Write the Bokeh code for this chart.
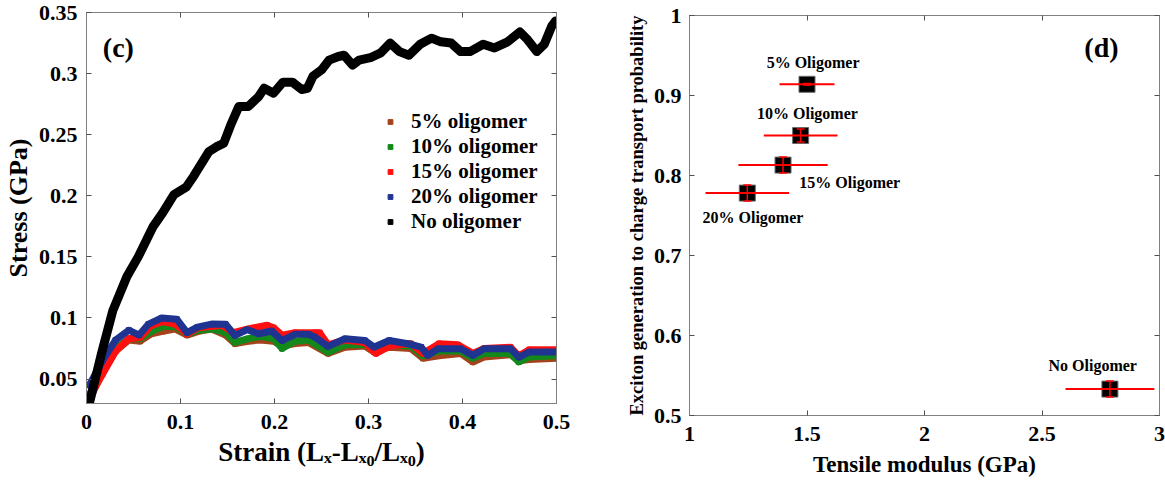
from bokeh.plotting import figure
from bokeh.layouts import row, column
from bokeh.models import (LinearAxis, FixedTicker, Label, Legend, LegendItem,
                          ColumnDataSource, Whisker, TeeHead, Range1d)
from bokeh.embed import file_html
from bokeh.resources import INLINE

# ---------------- data: panel (c) stress-strain ----------------
black_x = [0.003, 0.016, 0.028, 0.043, 0.055, 0.071, 0.081, 0.093, 0.106, 0.114,
           0.130, 0.138, 0.146, 0.154, 0.162, 0.172, 0.183, 0.189, 0.199, 0.209,
           0.219, 0.229, 0.235, 0.241, 0.250, 0.258, 0.268, 0.274, 0.283, 0.290,
           0.302, 0.313, 0.323, 0.333, 0.343, 0.355, 0.367, 0.377, 0.388, 0.398,
           0.408, 0.422, 0.434, 0.448, 0.461, 0.469, 0.479, 0.487, 0.495, 0.499]
black_y = [0.030, 0.071, 0.106, 0.134, 0.150, 0.175, 0.186, 0.201, 0.207, 0.216,
           0.236, 0.240, 0.243, 0.259, 0.273, 0.273, 0.281, 0.288, 0.284, 0.293,
           0.293, 0.287, 0.288, 0.298, 0.303, 0.311, 0.314, 0.315, 0.307, 0.311,
           0.313, 0.317, 0.325, 0.318, 0.315, 0.324, 0.329, 0.326, 0.325, 0.318,
           0.318, 0.324, 0.321, 0.326, 0.334, 0.328, 0.318, 0.324, 0.339, 0.343]

blue_x = [0.003, 0.017, 0.031, 0.045, 0.056, 0.066, 0.080, 0.096, 0.107, 0.118,
          0.133, 0.148, 0.158, 0.171, 0.183, 0.197, 0.208, 0.222, 0.236, 0.243,
          0.257, 0.275, 0.296, 0.306, 0.322, 0.342, 0.356, 0.363, 0.374, 0.398,
          0.411, 0.423, 0.451, 0.460, 0.471, 0.500]
blue_y = [0.045, 0.065, 0.082, 0.090, 0.086, 0.095, 0.100, 0.099, 0.088, 0.0925,
          0.095, 0.0948, 0.0857, 0.0904, 0.0871, 0.0893, 0.0816, 0.0866, 0.0866, 0.0844,
          0.0767, 0.083, 0.0816, 0.0762, 0.0816, 0.0789, 0.0762, 0.0694, 0.0748, 0.0748,
          0.0694, 0.0748, 0.0748, 0.068, 0.0721, 0.0721]

red_x = [0.003, 0.017, 0.031, 0.045, 0.057, 0.069, 0.081, 0.094, 0.107, 0.119,
         0.144, 0.156, 0.172, 0.192, 0.199, 0.208, 0.222, 0.243, 0.248, 0.257,
         0.275, 0.296, 0.308, 0.322, 0.345, 0.358, 0.375, 0.395, 0.411, 0.423,
         0.451, 0.460, 0.471, 0.500]
red_y = [0.035, 0.054, 0.073, 0.083, 0.084, 0.094, 0.097, 0.095, 0.087, 0.092,
         0.094, 0.088, 0.091, 0.094, 0.092, 0.086, 0.088, 0.088, 0.088, 0.078,
         0.082, 0.080, 0.071, 0.077, 0.079, 0.071, 0.079, 0.078, 0.071, 0.075,
         0.076, 0.069, 0.074, 0.074]

gb_x = [0.003, 0.017, 0.031, 0.045, 0.057, 0.069, 0.081, 0.094, 0.107, 0.119,
        0.133, 0.148, 0.158, 0.172, 0.185, 0.199, 0.208, 0.222, 0.236, 0.257,
        0.275, 0.296, 0.306, 0.322, 0.345, 0.358, 0.375, 0.398, 0.411, 0.423,
        0.451, 0.460, 0.471, 0.500]
green_y = [0.037, 0.058, 0.075, 0.083, 0.083, 0.089, 0.093, 0.093, 0.087, 0.090,
           0.091, 0.088, 0.080, 0.083, 0.085, 0.083, 0.075, 0.081, 0.082, 0.072,
           0.078, 0.078, 0.075, 0.078, 0.077, 0.069, 0.073, 0.073, 0.067, 0.071,
           0.071, 0.064, 0.068, 0.069]
brown_y = [0.033, 0.055, 0.073, 0.082, 0.081, 0.087, 0.089, 0.091, 0.086, 0.089,
           0.091, 0.086, 0.079, 0.081, 0.082, 0.081, 0.077, 0.079, 0.080, 0.071,
           0.076, 0.077, 0.072, 0.076, 0.075, 0.067, 0.069, 0.071, 0.064, 0.068,
           0.070, 0.065, 0.066, 0.067]

series_names = ["5% oligomer", "10% oligomer", "15% oligomer", "20% oligomer", "No oligomer"]

strain_ticks = [0, 0.1, 0.2, 0.3, 0.4, 0.5]
strain_labels = ["0", "0.1", "0.2", "0.3", "0.4", "0.5"]
stress_ticks = [0.05, 0.1, 0.15, 0.2, 0.25, 0.3, 0.35]
stress_labels = ["0.05", "0.1", "0.15", "0.2", "0.25", "0.3", "0.35"]

# ---------------- data: panel (d) ----------------
point_names = ["5% Oligomer", "10% Oligomer", "15% Oligomer", "20% Oligomer", "No Oligomer"]
modulus = [1.50, 1.473, 1.398, 1.246, 2.789]
modulus_err = [0.117, 0.157, 0.190, 0.178, 0.189]
probability = [0.914, 0.850, 0.813, 0.778, 0.533]
probability_err = [0.001, 0.008, 0.010, 0.010, 0.010]

modulus_ticks = [1, 1.5, 2, 2.5, 3]
modulus_labels = ["1", "1.5", "2", "2.5", "3"]
prob_ticks = [0.5, 0.6, 0.7, 0.8, 0.9, 1.0]
prob_labels = ["0.5", "0.6", "0.7", "0.8", "0.9", "1"]

FONT = "Liberation Serif"
GRAY = "#808080"
TICKC = "#505050"


def style_axis(ax, size, standoff):
    ax.axis_line_color = GRAY
    ax.major_tick_in = 5
    ax.major_tick_out = 0
    ax.minor_tick_line_color = None
    ax.major_tick_line_color = TICKC
    ax.major_label_text_font = FONT
    ax.major_label_text_font_style = "bold"
    ax.major_label_text_font_size = size
    ax.major_label_text_color = "black"
    ax.major_label_standoff = standoff
    ax.axis_label_text_font = FONT
    ax.axis_label_text_font_style = "bold"
    ax.axis_label_text_color = "black"


def mirror_axes(p, xticks, yticks):
    for loc, tk in (("above", xticks), ("right", yticks)):
        ax = LinearAxis(ticker=FixedTicker(ticks=tk))
        style_axis(ax, "0px", 0)
        ax.major_label_text_alpha = 0
        p.add_layout(ax, loc)


# ================= panel (c) =================
p1 = figure(width=600, height=482, output_backend="svg", toolbar_location=None,
            x_range=Range1d(0, 0.5), y_range=Range1d(0.03, 0.35),
            min_border_left=84, min_border_right=44, min_border_top=12, min_border_bottom=79)
p1.grid.visible = False
p1.outline_line_color = GRAY
p1.background_fill_color = "white"
p1.border_fill_color = "white"

p1.xaxis.ticker = FixedTicker(ticks=strain_ticks)
p1.yaxis.ticker = FixedTicker(ticks=stress_ticks)
p1.xaxis.major_label_overrides = dict(zip(strain_ticks, strain_labels))
p1.yaxis.major_label_overrides = dict(zip(stress_ticks, stress_labels))
style_axis(p1.xaxis[0], "22px", 11)
style_axis(p1.yaxis[0], "22px", 9)
p1.yaxis.axis_label = "Stress (GPa)"
p1.yaxis.axis_label_text_font_size = "26px"
p1.yaxis.axis_label_standoff = 3
p1.xaxis.axis_label = "Strain (L\u2093-L\u2093\u2080/L\u2093\u2080)"
p1.xaxis.axis_label_text_font_size = "27px"
p1.xaxis.axis_label_standoff = 5
mirror_axes(p1, strain_ticks, stress_ticks)

colors = ["#A4421C", "#12891A", "#FF1010", "#1F3391", "black"]
xs = [gb_x, gb_x, red_x, blue_x, black_x]
ys = [brown_y, green_y, red_y, blue_y, black_y]
widths = [7, 7, 7, 7, 9]
legend_items = []
for name, c, x, y, w in zip(series_names, colors, xs, ys, widths):
    src = ColumnDataSource(dict(x=x, y=y))
    s = p1.scatter("x", "y", source=src, marker="square", size=5, color=c)
    p1.line("x", "y", source=src, line_color=c, line_width=w,
             line_join="round", line_cap="round")
    legend_items.append(LegendItem(label=name, renderers=[s]))

legend = Legend(items=legend_items, location=(298, 169), margin=0, padding=0, spacing=0,
                glyph_width=12, glyph_height=23, label_height=23, label_standoff=15,
                label_text_font=FONT, label_text_font_style="bold",
                label_text_font_size="21px", label_text_color="black",
                background_fill_alpha=0, border_line_alpha=0)
p1.add_layout(legend)

# frame geometry helpers for placing the panel tag (panel c)
F1L, F1R, F1T, F1B = 84, 556, 12, 403


def c_x(px):
    return (px - F1L) / (F1R - F1L) * 0.5


def c_y(py):
    return 0.35 - (py - F1T) / (F1B - F1T) * 0.32


p1.add_layout(Label(x=c_x(116), y=c_y(47), text="(c)", text_align="center",
                    text_baseline="middle", text_font=FONT, text_font_style="bold",
                    text_font_size="28px", text_color="black"))

# ================= panel (d) =================
p2 = figure(width=565, height=482, output_backend="svg", toolbar_location=None,
            x_range=Range1d(1, 3), y_range=Range1d(0.5, 1.0),
            min_border_left=89, min_border_right=6, min_border_top=15, min_border_bottom=67)
p2.grid.visible = False
p2.outline_line_color = GRAY
p2.background_fill_color = "white"
p2.border_fill_color = "white"
p2.xaxis.ticker = FixedTicker(ticks=modulus_ticks)
p2.yaxis.ticker = FixedTicker(ticks=prob_ticks)
p2.xaxis.major_label_overrides = dict(zip(modulus_ticks, modulus_labels))
p2.yaxis.major_label_overrides = dict(zip(prob_ticks, prob_labels))
style_axis(p2.xaxis[0], "22px", 11)
style_axis(p2.yaxis[0], "22px", 8)
p2.xaxis.axis_label = "Tensile modulus (GPa)"
p2.xaxis.axis_label_text_font_size = "23px"
p2.xaxis.axis_label_standoff = 8
p2.yaxis.axis_label = "Exciton generation to charge transport probability"
p2.yaxis.axis_label_text_font_size = "18.5px"
p2.yaxis.axis_label_standoff = 4
mirror_axes(p2, modulus_ticks, prob_ticks)

src2 = ColumnDataSource(dict(
    x=modulus, y=probability,
    x0=[m - e for m, e in zip(modulus, modulus_err)],
    x1=[m + e for m, e in zip(modulus, modulus_err)],
    y0=[v - e for v, e in zip(probability, probability_err)],
    y1=[v + e for v, e in zip(probability, probability_err)],
))
p2.scatter("x", "y", source=src2, marker="square", size=16, fill_color="black",
           line_color="#6a6a6a", line_width=1)
p2.segment(x0="x0", y0="y", x1="x1", y1="y", source=src2, line_color="#FF0000", line_width=2)
p2.add_layout(Whisker(source=src2, base="x", lower="y0", upper="y1", dimension="height",
                      level="overlay", line_color="#FF0000", line_width=1.5,
                      upper_head=TeeHead(size=8, line_color="#FF0000", line_width=1.5),
                      lower_head=TeeHead(size=8, line_color="#FF0000", line_width=1.5)))

label_pos = [(1.526, 0.941), (1.502, 0.877), (1.682, 0.791), (1.27, 0.748), (2.716, 0.5624)]
for name, (lx, ly) in zip(point_names, label_pos):
    p2.add_layout(Label(x=lx, y=ly, text=name, text_align="center", text_baseline="middle",
                        text_font=FONT, text_font_style="bold", text_font_size="16px",
                        text_color="black"))
p2.add_layout(Label(x=2.753, y=0.96, text="(d)", text_align="center", text_baseline="middle",
                    text_font=FONT, text_font_style="bold", text_font_size="28px",
                    text_color="black"))

layout = row(column(p1), column(p2))
open("out.html", "w").write(file_html(layout, INLINE))
